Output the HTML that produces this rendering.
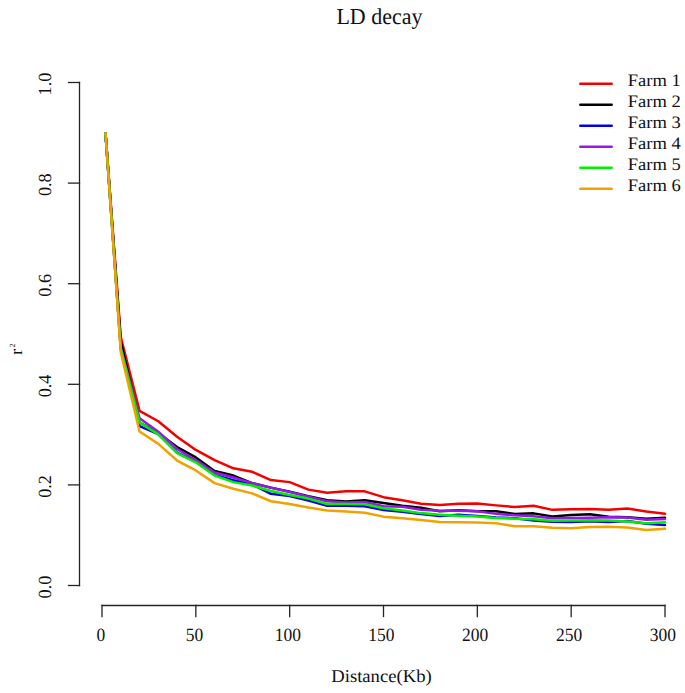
<!DOCTYPE html><html><head><meta charset="utf-8"><style>html,body{margin:0;padding:0;background:#fff;}svg{display:block;}text{font-family:"Liberation Serif",serif;fill:#111;text-rendering:geometricPrecision;}</style></head><body>
<svg width="685" height="693" viewBox="0 0 685 693">
<rect width="685" height="693" fill="#fff"/>
<text transform="translate(379.5,23.8) scale(0.965,1)" font-size="22.8" text-anchor="middle">LD decay</text>
<text transform="translate(381.5,682.4) scale(1.037,1)" font-size="18" text-anchor="middle">Distance(Kb)</text>
<text transform="translate(21.5,354.7) rotate(-90)" font-size="17.5">r</text>
<text transform="translate(15.2,347.4) rotate(-90)" font-size="8">2</text>
<g stroke="#242424" stroke-width="1.30" fill="none" stroke-linecap="square">
<line x1="79.5" y1="82.50" x2="79.5" y2="585.50"/>
<line x1="68.5" y1="585.50" x2="79.5" y2="585.50"/>
<line x1="68.5" y1="484.90" x2="79.5" y2="484.90"/>
<line x1="68.5" y1="384.30" x2="79.5" y2="384.30"/>
<line x1="68.5" y1="283.70" x2="79.5" y2="283.70"/>
<line x1="68.5" y1="183.10" x2="79.5" y2="183.10"/>
<line x1="68.5" y1="82.50" x2="79.5" y2="82.50"/>
<line x1="102.00" y1="605.5" x2="665.00" y2="605.5"/>
<line x1="102.00" y1="605.5" x2="102.00" y2="616.5"/>
<line x1="195.83" y1="605.5" x2="195.83" y2="616.5"/>
<line x1="289.67" y1="605.5" x2="289.67" y2="616.5"/>
<line x1="383.50" y1="605.5" x2="383.50" y2="616.5"/>
<line x1="477.33" y1="605.5" x2="477.33" y2="616.5"/>
<line x1="571.17" y1="605.5" x2="571.17" y2="616.5"/>
<line x1="665.00" y1="605.5" x2="665.00" y2="616.5"/>
</g>
<text transform="translate(50.9,587.10) rotate(-90) scale(0.98,1)" font-size="18.5" text-anchor="middle">0.0</text>
<text transform="translate(50.9,486.50) rotate(-90) scale(0.98,1)" font-size="18.5" text-anchor="middle">0.2</text>
<text transform="translate(50.9,385.90) rotate(-90) scale(0.98,1)" font-size="18.5" text-anchor="middle">0.4</text>
<text transform="translate(50.9,285.30) rotate(-90) scale(0.98,1)" font-size="18.5" text-anchor="middle">0.6</text>
<text transform="translate(50.9,184.70) rotate(-90) scale(0.98,1)" font-size="18.5" text-anchor="middle">0.8</text>
<text transform="translate(50.9,84.10) rotate(-90) scale(0.98,1)" font-size="18.5" text-anchor="middle">1.0</text>
<text transform="translate(100.90,640.6) scale(0.93,1)" font-size="18.8" text-anchor="middle">0</text>
<text transform="translate(194.40,640.6) scale(0.93,1)" font-size="18.8" text-anchor="middle">50</text>
<text transform="translate(287.80,640.6) scale(0.93,1)" font-size="18.8" text-anchor="middle">100</text>
<text transform="translate(381.40,640.6) scale(0.93,1)" font-size="18.8" text-anchor="middle">150</text>
<text transform="translate(475.10,640.6) scale(0.93,1)" font-size="18.8" text-anchor="middle">200</text>
<text transform="translate(569.20,640.6) scale(0.93,1)" font-size="18.8" text-anchor="middle">250</text>
<text transform="translate(662.80,640.6) scale(0.93,1)" font-size="18.8" text-anchor="middle">300</text>
<g fill="none" stroke-width="2.50" stroke-linejoin="round" stroke-linecap="round">
<polyline points="105.50,133.20 120.77,337.07 139.53,410.81 158.30,421.27 177.07,436.81 195.83,449.94 214.60,460.15 233.37,468.35 252.13,471.77 270.90,480.07 289.67,482.13 308.43,489.63 327.20,492.85 345.97,491.14 364.73,491.34 383.50,497.17 402.27,500.24 421.03,503.76 439.80,505.07 458.57,503.76 477.33,503.56 496.10,505.37 514.87,506.98 533.63,505.72 552.40,509.85 571.17,509.35 589.93,508.94 608.70,509.65 627.47,508.54 646.23,511.56 665.00,513.77" stroke="#f40000"/>
<polyline points="105.50,133.20 120.77,341.60 139.53,422.48 158.30,432.89 177.07,447.07 195.83,457.39 214.60,470.97 233.37,475.54 252.13,483.14 270.90,487.62 289.67,491.64 308.43,496.17 327.20,500.24 345.97,501.55 364.73,500.14 383.50,503.06 402.27,505.72 421.03,507.79 439.80,511.21 458.57,510.35 477.33,511.21 496.10,511.31 514.87,514.07 533.63,513.37 552.40,516.44 571.17,515.03 589.93,514.28 608.70,516.79 627.47,517.29 646.23,518.65 665.00,517.75" stroke="#000000"/>
<polyline points="105.50,133.20 120.77,348.13 139.53,426.20 158.30,434.10 177.07,452.61 195.83,461.76 214.60,475.04 233.37,480.17 252.13,484.45 270.90,493.85 289.67,496.02 308.43,500.64 327.20,505.82 345.97,505.82 364.73,506.18 383.50,510.00 402.27,511.71 421.03,514.12 439.80,515.99 458.57,514.78 477.33,515.88 496.10,517.39 514.87,518.20 533.63,520.61 552.40,521.82 571.17,522.07 589.93,521.32 608.70,522.07 627.47,521.02 646.23,523.68 665.00,524.99" stroke="#0000ea"/>
<polyline points="105.50,133.20 120.77,347.88 139.53,418.35 158.30,431.78 177.07,449.04 195.83,460.15 214.60,472.48 233.37,477.56 252.13,483.14 270.90,487.77 289.67,492.04 308.43,496.72 327.20,501.30 345.97,502.56 364.73,502.05 383.50,506.28 402.27,506.78 421.03,509.70 439.80,510.85 458.57,510.80 477.33,511.36 496.10,513.87 514.87,515.33 533.63,516.24 552.40,518.15 571.17,517.95 589.93,517.65 608.70,517.14 627.47,517.49 646.23,519.76 665.00,519.05" stroke="#9818e8"/>
<polyline points="105.50,133.20 120.77,348.64 139.53,422.33 158.30,434.35 177.07,453.06 195.83,462.26 214.60,475.54 233.37,482.13 252.13,485.55 270.90,490.99 289.67,494.91 308.43,498.58 327.20,503.96 345.97,503.96 364.73,504.27 383.50,508.24 402.27,510.45 421.03,513.12 439.80,514.63 458.57,515.73 477.33,516.44 496.10,517.90 514.87,518.65 533.63,519.36 552.40,520.66 571.17,520.46 589.93,520.16 608.70,520.46 627.47,521.42 646.23,523.28 665.00,522.37" stroke="#00f000"/>
<polyline points="105.50,133.20 120.77,352.16 139.53,431.43 158.30,443.86 177.07,460.55 195.83,470.46 214.60,483.14 233.37,488.77 252.13,493.35 270.90,501.25 289.67,503.96 308.43,507.48 327.20,510.45 345.97,511.56 364.73,512.67 383.50,516.64 402.27,518.15 421.03,519.96 439.80,522.07 458.57,522.32 477.33,522.57 496.10,523.18 514.87,526.35 533.63,526.35 552.40,527.65 571.17,528.16 589.93,527.05 608.70,526.65 627.47,527.60 646.23,529.97 665.00,528.86" stroke="#f2a200"/>
</g>
<g stroke-width="2.50" stroke-linecap="round">
<line x1="580.3" y1="83.70" x2="611.7" y2="83.70" stroke="#f40000"/>
<line x1="580.3" y1="104.73" x2="611.7" y2="104.73" stroke="#000000"/>
<line x1="580.3" y1="125.76" x2="611.7" y2="125.76" stroke="#0000ea"/>
<line x1="580.3" y1="146.79" x2="611.7" y2="146.79" stroke="#9818e8"/>
<line x1="580.3" y1="167.82" x2="611.7" y2="167.82" stroke="#00f000"/>
<line x1="580.3" y1="188.85" x2="611.7" y2="188.85" stroke="#f2a200"/>
</g>
<text transform="translate(627.8,85.80) scale(1.06,1)" font-size="17.5">Farm 1</text>
<text transform="translate(627.8,106.88) scale(1.06,1)" font-size="17.5">Farm 2</text>
<text transform="translate(627.8,127.96) scale(1.06,1)" font-size="17.5">Farm 3</text>
<text transform="translate(627.8,149.04) scale(1.06,1)" font-size="17.5">Farm 4</text>
<text transform="translate(627.8,170.12) scale(1.06,1)" font-size="17.5">Farm 5</text>
<text transform="translate(627.8,191.20) scale(1.06,1)" font-size="17.5">Farm 6</text>
</svg></body></html>
